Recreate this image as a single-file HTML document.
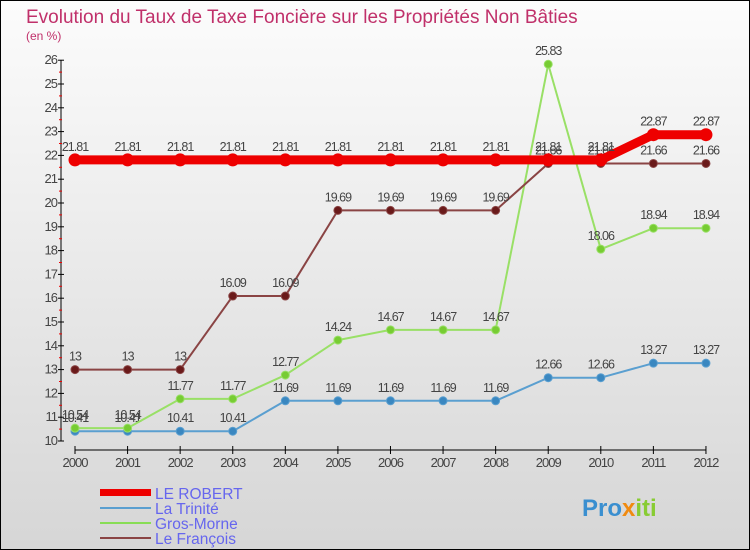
<!DOCTYPE html>
<html><head><meta charset="utf-8"><style>
body{margin:0;width:750px;height:550px;overflow:hidden;font-family:"Liberation Sans",sans-serif}
svg{display:block}
</style></head><body>
<svg id="c" width="750" height="550" xmlns="http://www.w3.org/2000/svg">
<defs><linearGradient id="bg" x1="0" y1="0" x2="0" y2="1"><stop offset="0" stop-color="#fcfcfc"/><stop offset="1" stop-color="#d6d6d6"/></linearGradient></defs>
<rect x="0.5" y="0.5" width="749" height="549" fill="url(#bg)" stroke="#000"/>
<text x="26" y="23" font-size="19" fill="#c0306a">Evolution du Taux de Taxe Foncière sur les Propriétés Non Bâties</text>
<text x="26" y="40" font-size="12" fill="#c0306a">(en %)</text>
<g id="axes"></g><g id="series"></g>
<g>
<rect x="100" y="489" width="51" height="7" fill="#ee0000"/>
<text x="155" y="499" font-size="15.5" fill="#6666ee">LE ROBERT</text>
<rect x="100" y="507" width="51" height="2" fill="#5a9fd0"/>
<text x="155" y="514" font-size="15.5" fill="#6666ee">La Trinité</text>
<rect x="100" y="522" width="51" height="2" fill="#88dd55"/>
<text x="155" y="529" font-size="15.5" fill="#6666ee">Gros-Morne</text>
<rect x="100" y="537" width="51" height="2" fill="#8a4444"/>
<text x="155" y="544" font-size="15.5" fill="#6666ee">Le François</text>
</g>
<text x="582" y="516" font-size="24" font-weight="bold" fill="#3a8fd0">Pro<tspan fill="#f08a10">x</tspan><tspan fill="#88cc33">iti</tspan></text>
</svg>
<script>
const years=[2000,2001,2002,2003,2004,2005,2006,2007,2008,2009,2010,2011,2012];
const yTicks=[10,11,12,13,14,15,16,17,18,19,20,21,22,23,24,25,26];
const leRobert=[21.81,21.81,21.81,21.81,21.81,21.81,21.81,21.81,21.81,21.81,21.81,22.87,22.87];
const laTrinite=[10.41,10.41,10.41,10.41,11.69,11.69,11.69,11.69,11.69,12.66,12.66,13.27,13.27];
const grosMorne=[10.54,10.54,11.77,11.77,12.77,14.24,14.67,14.67,14.67,25.83,18.06,18.94,18.94];
const leFrancois=[13,13,13,16.09,16.09,19.69,19.69,19.69,19.69,21.66,21.66,21.66,21.66];
const NS="http://www.w3.org/2000/svg";
const X=i=>75+i*52.58, Y=v=>441-(v-10)*23.8;
function mk(t,a,p){const e=document.createElementNS(NS,t);for(const k in a)e.setAttribute(k,a[k]);p.appendChild(e);return e;}
const ax=document.getElementById('axes');
let l=mk('line',{x1:61,y1:60,x2:61,y2:441,stroke:'#000'},ax);


yTicks.forEach(v=>{
  mk('line',{x1:58,y1:Y(v),x2:64,y2:Y(v),stroke:'#000'},ax);
  if(v<26)mk('line',{x1:59,y1:Y(v+0.5),x2:62,y2:Y(v+0.5),stroke:'#e00'},ax);
  const t=mk('text',{x:57,y:Y(v)+4,'font-size':13,fill:'#444','text-anchor':'end','letter-spacing':'-1'},ax);
  t.textContent=v;
  
  
});
l=mk('line',{x1:75,y1:450,x2:706,y2:450,stroke:'#000'},ax);


years.forEach((y,i)=>{
  mk('line',{x1:X(i),y1:446,x2:X(i),y2:454,stroke:'#000'},ax);
  const t=mk('text',{x:X(i),y:467,'font-size':13,fill:'#444','text-anchor':'middle','letter-spacing':'-1'},ax);
  t.textContent=y;
  
  
});
const sg=document.getElementById('series');
function draw(data,color,w,r,name,dot){
  const g=mk('g',{},sg);
  
  
  const pl=mk('polyline',{points:data.map((v,i)=>X(i)+','+Y(v)).join(' '),fill:'none',stroke:color,'stroke-width':w,'stroke-linejoin':'round'},g);
  
  
  data.forEach((v,i)=>{
    const c=mk('circle',{cx:X(i),cy:Y(v),r:r,fill:dot,stroke:color,'stroke-width':1},g);
    
    
    const t=mk('text',{x:X(i),y:Y(v)-9,'font-size':12.5,fill:'#444','text-anchor':'middle','letter-spacing':'-1'},g);
    t.textContent=v;
    
    
  });
}
draw(laTrinite,'#5a9fd0',2,4,'la-trinite','#3a87c0');
draw(grosMorne,'#99e066',2,4,'gros-morne','#77cc33');
draw(leFrancois,'#8a4444',2,4,'le-francois','#6a1a1a');
draw(leRobert,'#ee0000',9,6,'le-robert','#ee0000');
</script>
</body></html>
